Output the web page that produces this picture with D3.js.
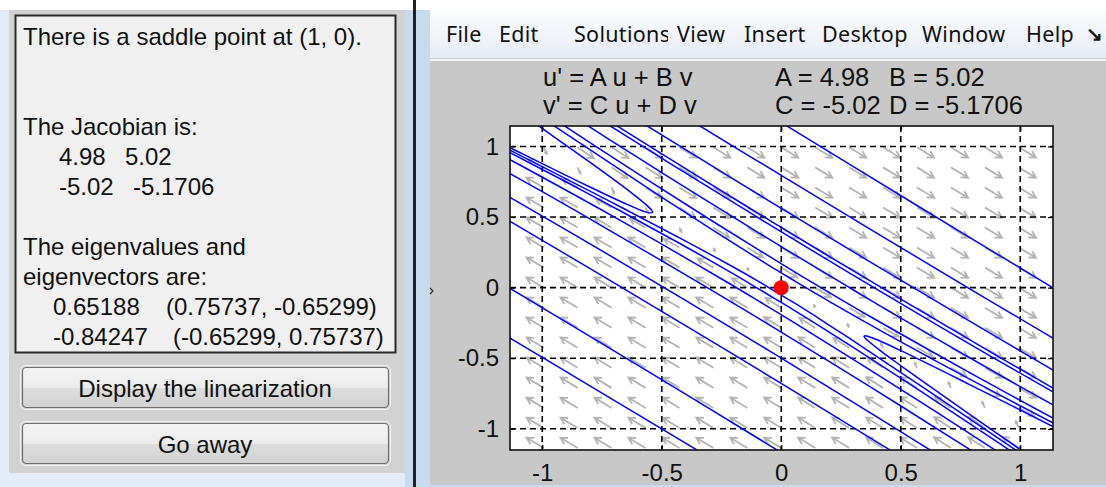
<!DOCTYPE html>
<html>
<head>
<meta charset="utf-8">
<script src="https://cdn.jsdelivr.net/npm/d3@7"></script>
<style>
  body { margin: 0; background: #fff; }
  svg { display: block; }
  text { font-family: "Liberation Sans", Arial, sans-serif; fill: #111; }
</style>
</head>
<body>
<div id="chart"></div>
<script>
// ---- values ----
const coefA = 4.98, coefB = 5.02, coefC = -5.02, coefD = -5.1706;
const xTicks = [-1, -0.5, 0, 0.5, 1];
const yTicks = [-1, -0.5, 0, 0.5, 1];
const tickLabels = ["-1", "-0.5", "0", "0.5", "1"];
const equilibrium = [0, 0];

// grid points of the direction field (arrow tails)
const fieldU = [-1.136, -0.994, -0.852, -0.710, -0.568, -0.426, -0.284, -0.142,
                0, 0.142, 0.284, 0.426, 0.568, 0.710, 0.852, 0.994];
const fieldV = [-1.136, -0.994, -0.852, -0.710, -0.568, -0.426, -0.284, -0.142,
                0, 0.142, 0.284, 0.426, 0.568, 0.710, 0.852, 0.994];

// solution curves, (u, v) points
const trajectories = [
  // passing above / right of the saddle
  [[-0.01, 1.18], [0.561, 0.589], [1.17, -0.035]],
  [[-0.36, 1.165], [0, 0.795], [0.766, 0.014], [1.16, -0.38]],
  [[-0.58, 1.165], [0, 0.561], [0.79, -0.239], [1.16, -0.607]],
  [[-0.797, 1.263], [-0.567, 1.018], [-0.164, 0.596], [0.182, 0.240], [0.894, -0.474], [1.14, -0.714], [1.2, -0.77]],
  [[-0.969, 1.417], [-0.715, 1.145], [-0.488, 0.904], [0.080, 0.313], [0.676, -0.289], [1.171, -0.772]],
  [[-0.875, 1.218], [-0.601, 0.922], [-0.368, 0.675], [0.017, 0.273], [0.472, -0.187], [0.960, -0.663], [1.176, -0.868]],
  [[-0.978, 1.224], [-0.581, 0.786], [-0.304, 0.488], [-0.091, 0.264], [0.083, 0.084], [0.233, -0.067], [0.366, -0.199], [0.807, -0.620], [1.18, -0.963]],
  [[-1.062, 1.272], [-0.894, 1.082], [-0.594, 0.746], [-0.392, 0.522], [-0.124, 0.234], [-0.026, 0.131], [0.059, 0.045], [0.134, -0.031], [0.202, -0.099], [0.432, -0.320], [0.806, -0.664], [1.141, -0.962], [1.2, -1.015]],
  // passing below / left of the saddle
  [[-1.16, -0.332], [-0.799, -0.697], [-0.33, -1.173]],
  [[-1.16, 0.02], [-0.561, -0.589], [0.0, -1.168]],
  [[-1.257, 0.59], [-1.124, 0.459], [-0.775, 0.110], [-0.397, -0.272], [0.017, -0.696], [0.382, -1.074], [0.578, -1.279]],
  [[-1.378, 0.877], [-1.135, 0.640], [-0.811, 0.321], [-0.455, -0.036], [0.031, -0.531], [0.405, -0.921], [0.612, -1.138], [0.722, -1.254]],
  [[-1.394, 1.053], [-1.077, 0.753], [-0.848, 0.533], [-0.322, 0.013], [-0.004, -0.311], [0.381, -0.712], [0.738, -1.092], [0.875, -1.240]],
  [[-1.211, 0.976], [-1.119, 0.892], [-0.722, 0.522], [-0.235, 0.047], [-0.083, -0.107], [0.091, -0.286], [0.556, -0.781], [0.901, -1.157], [0.985, -1.251]],
  [[-1.222, 1.034], [-1.141, 0.962], [-0.806, 0.664], [-0.432, 0.320], [-0.202, 0.099], [-0.134, 0.031], [-0.059, -0.045], [0.026, -0.131], [0.124, -0.234], [0.392, -0.522], [0.594, -0.746], [0.894, -1.082], [1.062, -1.272]],
  [[-1.198, 1.028], [-1.121, 0.962], [-0.731, 0.623], [-0.404, 0.333], [-0.218, 0.162], [-0.103, 0.052], [-0.033, -0.019], [0.058, -0.112], [0.190, -0.254], [0.314, -0.391], [0.436, -0.529], [0.623, -0.740], [0.759, -0.896], [0.946, -1.110], [1.067, -1.250]],
  // the two turning curves
  [[-1.179, 1.029], [-1.107, 0.968], [-0.829, 0.736], [-0.644, 0.589], [-0.555, 0.531], [-0.538, 0.534], [-0.544, 0.552], [-0.568, 0.591], [-0.620, 0.663], [-0.726, 0.797], [-0.948, 1.065], [-1.018, 1.149], [-1.102, 1.249]],
  [[1.226, -1.061], [1.152, -0.997], [0.784, -0.683], [0.505, -0.450], [0.388, -0.360], [0.351, -0.340], [0.346, -0.345], [0.361, -0.373], [0.417, -0.450], [0.496, -0.548], [0.588, -0.659], [0.744, -0.845], [0.865, -0.988], [1.036, -1.189]]
];

const infoLines = [
  {t: "There is a saddle point at (1, 0).", x: 23, y: 45},
  {t: "The Jacobian is:", x: 23, y: 135},
  {t: "4.98", x: 59, y: 165}, {t: "5.02", x: 125, y: 165},
  {t: "-5.02", x: 59, y: 195}, {t: "-5.1706", x: 133, y: 195},
  {t: "The eigenvalues and", x: 23, y: 255},
  {t: "eigenvectors are:", x: 23, y: 285},
  {t: "0.65188", x: 53, y: 315}, {t: "(0.75737, -0.65299)", x: 166, y: 315},
  {t: "-0.84247", x: 53, y: 345}, {t: "(-0.65299, 0.75737)", x: 173, y: 345}
];
const buttons = [
  {label: "Display the linearization", y: 367},
  {label: "Go away", y: 423}
];
const menuItems = [
  {t: "File", x: 446}, {t: "Edit", x: 499}, {t: "Solutions", x: 574},
  {t: "View", x: 677}, {t: "Insert", x: 744}, {t: "Desktop", x: 822},
  {t: "Window", x: 922}, {t: "Help", x: 1026}
];
const headerLines = [
  {t: "u' = A u + B v", x: 543, y: 86}, {t: "A = 4.98", x: 775, y: 86}, {t: "B = 5.02", x: 889, y: 86},
  {t: "v' = C u + D v", x: 543, y: 114}, {t: "C = -5.02", x: 775, y: 114}, {t: "D = -5.1706", x: 889, y: 114}
];

// ---- page ----
const W = 1106, H = 487;
const svg = d3.select("#chart").append("svg")
    .attr("width", W).attr("height", H);

const defs = svg.append("defs");
const bg = defs.append("linearGradient").attr("id", "btn").attr("x1", 0).attr("y1", 0).attr("x2", 0).attr("y2", 1);
bg.append("stop").attr("offset", "0%").attr("stop-color", "#f4f4f4");
bg.append("stop").attr("offset", "50%").attr("stop-color", "#ebebeb");
bg.append("stop").attr("offset", "51%").attr("stop-color", "#dddddd");
bg.append("stop").attr("offset", "100%").attr("stop-color", "#d2d2d2");
const mg = defs.append("linearGradient").attr("id", "menu").attr("x1", 0).attr("y1", 0).attr("x2", 0).attr("y2", 1);
mg.append("stop").attr("offset", "0%").attr("stop-color", "#fcfdfe");
mg.append("stop").attr("offset", "100%").attr("stop-color", "#e6ecf4");

svg.append("rect").attr("width", W).attr("height", H).attr("fill", "#fff");

// left dialog
svg.append("rect").attr("x", 0).attr("y", 10).attr("width", 413).attr("height", 477).attr("fill", "#e4edf7");
svg.append("rect").attr("x", 9).attr("y", 10).attr("width", 396).attr("height", 463).attr("fill", "#d2d2d2");
svg.append("rect").attr("x", 15.5).attr("y", 15.5).attr("width", 380).attr("height", 337)
    .attr("fill", "#f0f0f0").attr("stroke", "#2a2a2a").attr("stroke-width", 2);

svg.append("g").selectAll("text").data(infoLines).join("text")
    .attr("x", d => d.x).attr("y", d => d.y)
    .style("font-size", "24px")
    .text(d => d.t);

const btn = svg.append("g").selectAll("g").data(buttons).join("g");
btn.append("rect").attr("x", 20.5).attr("y", d => d.y - 1.5).attr("width", 370).attr("height", 44)
    .attr("rx", 5).attr("fill", "none").attr("stroke", "#f4f4f4").attr("stroke-width", 1);
btn.append("rect").attr("x", 22.5).attr("y", d => d.y + 0.5).attr("width", 366).attr("height", 40)
    .attr("rx", 4).attr("fill", "url(#btn)").attr("stroke", "#707070").attr("stroke-width", 1.2);
btn.append("text").attr("x", 205).attr("y", d => d.y + 30)
    .attr("text-anchor", "middle").style("font-size", "24px")
    .text(d => d.label);

// window frame between the two
svg.append("rect").attr("x", 405).attr("y", 10).attr("width", 25).attr("height", 477).attr("fill", "#c8dbee");
svg.append("rect").attr("x", 413).attr("y", 0).attr("width", 3).attr("height", H).attr("fill", "#222");

// figure window
svg.append("rect").attr("x", 430).attr("y", 10).attr("width", W - 430).attr("height", 48).attr("fill", "url(#menu)");
svg.append("rect").attr("x", 430).attr("y", 58).attr("width", W - 430).attr("height", 1).attr("fill", "#c4cdd8");
svg.append("rect").attr("x", 430).attr("y", 59).attr("width", W - 430).attr("height", 2).attr("fill", "#f4f4f4");
svg.append("rect").attr("x", 430).attr("y", 61).attr("width", W - 430).attr("height", 424).attr("fill", "#c8c8c8");
svg.append("rect").attr("x", 430).attr("y", 485).attr("width", W - 430).attr("height", 2).attr("fill", "#c8dbee");

defs.append("clipPath").attr("id", "solclip").append("rect")
    .attr("x", 560).attr("y", 10).attr("width", 108).attr("height", 48);
svg.append("g").selectAll("text").data(menuItems).join("text")
    .attr("x", d => d.x).attr("y", 42)
    .attr("clip-path", d => d.t === "Solutions" ? "url(#solclip)" : null)
    .style("font-family", "'Noto Sans', 'Open Sans', sans-serif")
    .style("font-size", "21.5px")
    .style("letter-spacing", "0.3px")
    .text(d => d.t);
svg.append("text").attr("x", 1086).attr("y", 41).style("font-size", "20px").style("font-weight", "bold").text("↘");
svg.append("path").attr("d", "M430,288 l3,3 l-3,3").attr("fill", "none").attr("stroke", "#333").attr("stroke-width", 1.2);

// equation header
svg.append("g").selectAll("text").data(headerLines).join("text")
    .attr("x", d => d.x).attr("y", d => d.y)
    .style("font-size", "25.5px")
    .text(d => d.t);

// ---- axes ----
const margin = {left: 510, top: 126, right: 1053, bottom: 450};
const x = d3.scaleLinear().domain([-1.135, 1.137]).range([margin.left, margin.right]);
const y = d3.scaleLinear().domain([-1.15, 1.145]).range([margin.bottom, margin.top]);

svg.append("rect").attr("x", margin.left).attr("y", margin.top)
    .attr("width", margin.right - margin.left).attr("height", margin.bottom - margin.top)
    .attr("fill", "#fff");

defs.append("clipPath").attr("id", "plotclip").append("rect")
    .attr("x", margin.left).attr("y", margin.top)
    .attr("width", margin.right - margin.left).attr("height", margin.bottom - margin.top);

const plot = svg.append("g").attr("clip-path", "url(#plotclip)");

// direction field
const pxU = x(1) - x(0), pxV = y(0) - y(1);
const arrows = [];
fieldU.forEach(u => fieldV.forEach(v => {
  const du = coefA * u + coefB * v, dv = coefC * u + coefD * v;
  const mag = Math.hypot(du, dv);
  if (mag === 0) return;
  let ex = du * pxU, ey = -dv * pxV;
  const n = Math.hypot(ex, ey);
  ex /= n; ey /= n;
  const len = 20 * Math.min(1, Math.sqrt(mag / 1.2));
  arrows.push({u, v, ex, ey, len});
}));
plot.append("g").selectAll("path").data(arrows).join("path")
    .attr("d", d => {
      const x0 = x(d.u), y0 = y(d.v);
      const x1 = x0 + d.ex * d.len, y1 = y0 + d.ey * d.len;
      const h = Math.max(2.5, d.len * 0.38), a = 0.5;
      const c = Math.cos(a), s = Math.sin(a);
      const hx1 = x1 - h * (d.ex * c - d.ey * s), hy1 = y1 - h * (d.ey * c + d.ex * s);
      const hx2 = x1 - h * (d.ex * c + d.ey * s), hy2 = y1 - h * (d.ey * c - d.ex * s);
      return `M${x0},${y0}L${x1},${y1}M${hx1},${hy1}L${x1},${y1}L${hx2},${hy2}`;
    })
    .attr("fill", "none").attr("stroke", "#b4b4b4").attr("stroke-width", 1.8);

// dashed grid
plot.append("g").selectAll("line").data(xTicks).join("line")
    .attr("x1", d => x(d)).attr("x2", d => x(d))
    .attr("y1", margin.top).attr("y2", margin.bottom)
    .attr("stroke", "#000").attr("stroke-width", 1.6).attr("stroke-dasharray", "6,4");
plot.append("g").selectAll("line").data(yTicks).join("line")
    .attr("y1", d => y(d)).attr("y2", d => y(d))
    .attr("x1", margin.left).attr("x2", margin.right)
    .attr("stroke", "#000").attr("stroke-width", 1.6).attr("stroke-dasharray", "6,4");

// solutions
const line = d3.line().x(d => x(d[0])).y(d => y(d[1])).curve(d3.curveCatmullRom.alpha(0.5));
plot.append("g").selectAll("path").data(trajectories).join("path")
    .attr("d", line)
    .attr("fill", "none").attr("stroke", "#0000ff").attr("stroke-width", 1.5);

// equilibrium
plot.append("circle").attr("cx", x(equilibrium[0])).attr("cy", y(equilibrium[1]))
    .attr("r", 7.5).attr("fill", "#ff0000");

// frame + ticks
const xAxis = d3.axisBottom(x).tickValues(xTicks).tickFormat((d, i) => tickLabels[i]).tickSizeInner(-5).tickSizeOuter(0).tickPadding(14);
const yAxis = d3.axisLeft(y).tickValues(yTicks).tickFormat((d, i) => tickLabels[i]).tickSizeInner(-5).tickSizeOuter(0).tickPadding(11);
const gx = svg.append("g").attr("transform", `translate(0,${margin.bottom})`).call(xAxis);
const gy = svg.append("g").attr("transform", `translate(${margin.left},0)`).call(yAxis);
svg.append("g").attr("transform", `translate(0,${margin.top})`)
    .call(d3.axisTop(x).tickValues(xTicks).tickFormat("").tickSizeInner(-5).tickSizeOuter(0));
svg.append("g").attr("transform", `translate(${margin.right},0)`)
    .call(d3.axisRight(y).tickValues(yTicks).tickFormat("").tickSizeInner(-5).tickSizeOuter(0));
svg.selectAll(".domain").remove();
svg.selectAll(".tick line").attr("stroke", "#000").attr("stroke-width", 1.2);
[gx, gy].forEach(g => g.selectAll("text")
    .style("font-family", "'Liberation Sans', Arial, sans-serif")
    .style("font-size", "24px").attr("fill", "#111"));
gx.selectAll("text").attr("dy", "0.71em");
svg.append("rect").attr("x", margin.left).attr("y", margin.top)
    .attr("width", margin.right - margin.left).attr("height", margin.bottom - margin.top)
    .attr("fill", "none").attr("stroke", "#111").attr("stroke-width", 1.6);
</script>
</body>
</html>
